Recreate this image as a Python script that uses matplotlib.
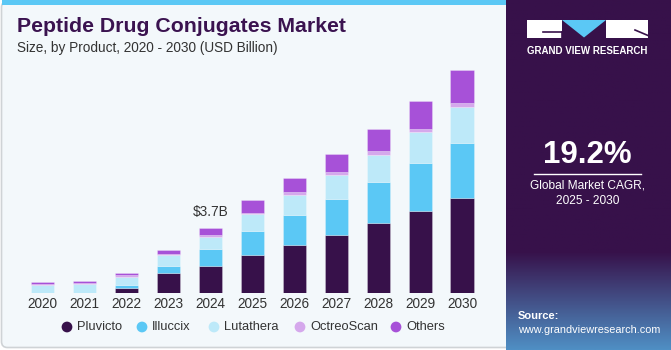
"""Peptide drug conjugates market size by product, 2020-2030."""

import matplotlib

matplotlib.use("Agg")
import matplotlib.pyplot as plt
import numpy as np
from matplotlib.patches import FancyBboxPatch, Polygon, Rectangle

years = ["2020", "2021", "2022", "2023", "2024", "2025", "2026", "2027", "2028", "2029", "2030"]
products = ["Pluvicto", "Illuccix", "Lutathera", "OctreoScan", "Others"]

# USD billion
pluvicto = [0.00, 0.00, 0.30, 1.16, 1.53, 2.16, 2.73, 3.30, 3.96, 4.66, 5.42]
illuccix = [0.02, 0.02, 0.15, 0.40, 0.95, 1.36, 1.70, 2.06, 2.37, 2.73, 3.13]
lutathera = [0.45, 0.47, 0.47, 0.60, 0.70, 0.95, 1.14, 1.33, 1.55, 1.78, 2.05]
octreoscan = [0.07, 0.07, 0.08, 0.06, 0.10, 0.11, 0.15, 0.17, 0.19, 0.19, 0.23]
others = [0.09, 0.10, 0.13, 0.23, 0.42, 0.70, 0.85, 1.06, 1.29, 1.59, 1.89]

highlight_year = "2024"
highlight_label = "$3.7B"
cagr = "19.2%"

colors = ["#37114a", "#5bc8f5", "#bde9f9", "#d5a8ec", "#a751d8"]
PANEL = "#37114a"
TEXT = "#333333"
W, H = 671, 350

plt.rcParams["font.family"] = ["Liberation Sans", "DejaVu Sans"]

fig = plt.figure(figsize=(W / 100, H / 100), dpi=100)

# background layer in pixel coordinates (y down)
bg = fig.add_axes([0, 0, 1, 1], zorder=0)
bg.set_xlim(0, W)
bg.set_ylim(H, 0)
bg.axis("off")
bg.add_patch(FancyBboxPatch((1.5, 1.5), 510, 346, boxstyle="round,pad=0,rounding_size=6",
                            facecolor="#f3f8fb", edgecolor="#cfd3d6", linewidth=1.2))
bg.add_patch(Rectangle((1.5, 0), 505, 5, facecolor="#5bc8f5", edgecolor="none"))

# right panel with gradient towards the bottom
grad = np.linspace(0, 1, 256)[:, None]
grad = np.clip((grad - 0.72) / 0.28, 0, 1)
top_rgb = np.array(matplotlib.colors.to_rgb(PANEL))
bot_rgb = np.array(matplotlib.colors.to_rgb("#4f8fc4"))
img = top_rgb[None, None, :] * (1 - grad[..., None]) + bot_rgb[None, None, :] * grad[..., None]
bg.imshow(img, extent=(506, W, H, 0), aspect="auto", zorder=1)

# logo
bg.add_patch(Rectangle((527, 20), 35, 18, facecolor="white", edgecolor="none", zorder=2))
bg.plot([543, 562], [32, 32], color=PANEL, lw=1.2, zorder=3)
bg.plot([561.5, 561.5], [32, 38], color=PANEL, lw=1.2, zorder=3)
bg.add_patch(Polygon([(562, 20), (606, 20), (584, 37.5)], closed=True,
                     facecolor="#5bc8f5", edgecolor="none", zorder=2))
bg.add_patch(Rectangle((606, 20), 42, 18, facecolor="white", edgecolor="none", zorder=2))
bg.plot([635, 648], [30, 35.5], color=PANEL, lw=1.2, zorder=3)
bg.text(587.5, 51, "GRAND VIEW RESEARCH", color="white", fontsize=7, fontweight="bold",
        ha="center", va="center", zorder=3)

bg.text(587.5, 155, cagr, color="white", fontsize=22.5, fontweight="bold",
        ha="center", va="center", zorder=3)
bg.plot([534, 641], [173.5, 173.5], color="white", lw=1, zorder=3)
bg.text(587.5, 186, "Global Market CAGR,", color="white", fontsize=8.6,
        ha="center", va="center", zorder=3)
bg.text(587.5, 201, "2025 - 2030", color="white", fontsize=8.6,
        ha="center", va="center", zorder=3)
bg.text(518, 316, "Source:", color="white", fontsize=8, fontweight="bold",
        ha="left", va="center", zorder=3)
bg.text(518, 330, "www.grandviewresearch.com", color="white", fontsize=7.8,
        ha="left", va="center", zorder=3)

# titles
bg.text(17, 27, "Peptide Drug Conjugates Market", color="#3b1350", fontsize=15.3,
        fontweight="bold", ha="left", va="center", zorder=3)
bg.text(17, 48, "Size, by Product, 2020 - 2030 (USD Billion)", color=TEXT,
        fontsize=9.8, ha="left", va="center", zorder=3)

# chart axes: baseline at y=293px, 17.57 px per billion
base_px, top_px = 293, 60
ax = fig.add_axes([19.4 / W, (H - base_px) / H, (483 - 19.4) / W, (base_px - top_px) / H], zorder=2)
ax.patch.set_alpha(0)
ax.set_xlim(-0.55, 10.5)
ax.set_ylim(0, (base_px - top_px) / 17.57)

x = np.arange(len(years))
series = [pluvicto, illuccix, lutathera, octreoscan, others]
bottom = np.zeros(len(years))
for name, vals, col in zip(products, series, colors):
    ax.bar(x, vals, width=0.55, bottom=bottom, color=col, label=name,
           edgecolor=(1, 1, 1, 0.35), linewidth=0.5)
    bottom += np.array(vals)

hi = years.index(highlight_year)
ax.text(x[hi], bottom[hi] + 0.5, highlight_label, ha="center", va="bottom",
        fontsize=9.8, color=TEXT)

ax.set_xticks(x)
ax.set_xticklabels(years, fontsize=9.8, color=TEXT)
ax.tick_params(axis="x", length=0, pad=3)
ax.set_yticks([])
for s in ax.spines.values():
    s.set_visible(False)

# legend row
leg_x = [67, 142, 214, 300, 396]
for lx, name, col in zip(leg_x, products, colors):
    bg.scatter([lx], [327], s=60, color=col, edgecolors="none", zorder=3)
    bg.text(lx + 10, 327, name, color=TEXT, fontsize=9.3, ha="left", va="center", zorder=3)

fig.savefig("out.png", dpi=100)
